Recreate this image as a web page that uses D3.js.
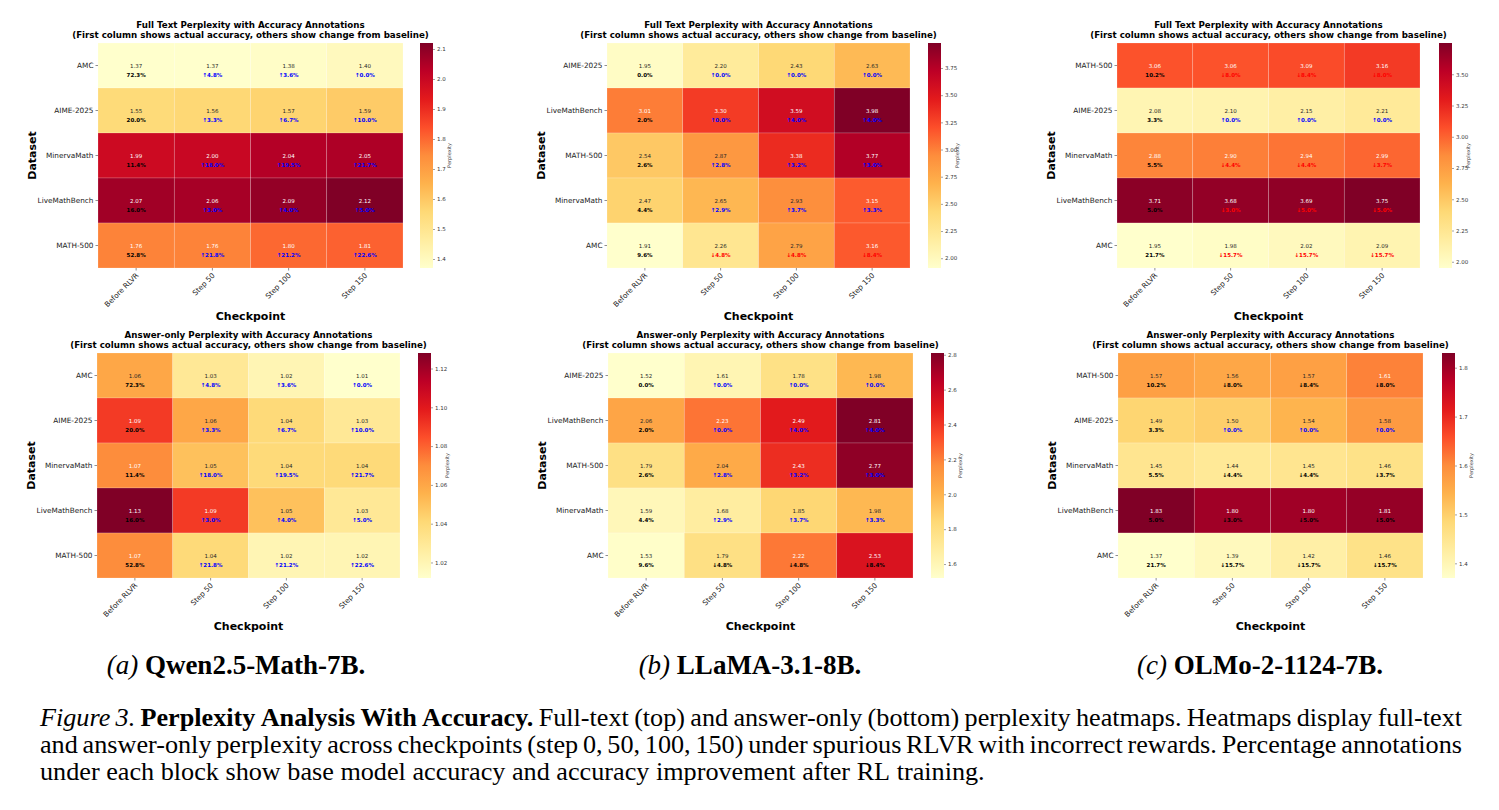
<!DOCTYPE html>
<html>
<head>
<meta charset="utf-8">
<script src="https://cdn.jsdelivr.net/npm/d3@7"></script>
<style>
  body { margin: 0; background: #fff; }
  svg { display: block; }
</style>
</head>
<body>
<div id="chart"></div>
<script>
// ---- data ----
var checkpoints = ["Before RLVR", "Step 50", "Step 100", "Step 150"];

// Qwen2.5-Math-7B
var qwenRows = ["AMC", "AIME-2025", "MinervaMath", "LiveMathBench", "MATH-500"];
var qwenFull = [
    [1.37, 1.37, 1.38, 1.40],
    [1.55, 1.56, 1.57, 1.59],
    [1.99, 2.00, 2.04, 2.05],
    [2.07, 2.06, 2.09, 2.12],
    [1.76, 1.76, 1.80, 1.81]
];
var qwenAns = [
    [1.06, 1.03, 1.02, 1.012],
    [1.09, 1.06, 1.04, 1.03],
    [1.07, 1.05, 1.04, 1.04],
    [1.128, 1.09, 1.05, 1.03],
    [1.07, 1.04, 1.02, 1.02]
];
// first column = accuracy, others = change from baseline
var qwenAcc = [
    [72.3, 4.8, 3.6, 0.0],
    [20.0, 3.3, 6.7, 10.0],
    [11.4, 18.0, 19.5, 21.7],
    [16.0, 3.0, 4.0, 5.0],
    [52.8, 21.8, 21.2, 22.6]
];

// LLaMA-3.1-8B
var llamaRows = ["AIME-2025", "LiveMathBench", "MATH-500", "MinervaMath", "AMC"];
var llamaFull = [
    [1.95, 2.20, 2.43, 2.63],
    [3.01, 3.30, 3.59, 3.98],
    [2.54, 2.87, 3.38, 3.77],
    [2.47, 2.65, 2.93, 3.15],
    [1.91, 2.26, 2.79, 3.16]
];
var llamaAns = [
    [1.52, 1.61, 1.78, 1.98],
    [2.06, 2.23, 2.49, 2.81],
    [1.79, 2.04, 2.43, 2.77],
    [1.59, 1.68, 1.85, 1.98],
    [1.53, 1.79, 2.22, 2.53]
];
var llamaAcc = [
    [0.0, 0.0, 0.0, 0.0],
    [2.0, 0.0, 4.0, 4.0],
    [2.6, 2.8, 3.2, 3.0],
    [4.4, 2.9, 3.7, 3.3],
    [9.6, -4.8, -4.8, -8.4]
];

// OLMo-2-1124-7B
var olmoRows = ["MATH-500", "AIME-2025", "MinervaMath", "LiveMathBench", "AMC"];
var olmoFull = [
    [3.06, 3.06, 3.09, 3.16],
    [2.08, 2.10, 2.15, 2.21],
    [2.88, 2.90, 2.94, 2.99],
    [3.71, 3.68, 3.69, 3.75],
    [1.95, 1.98, 2.02, 2.09]
];
var olmoAns = [
    [1.57, 1.56, 1.57, 1.61],
    [1.49, 1.50, 1.54, 1.58],
    [1.45, 1.44, 1.45, 1.46],
    [1.83, 1.80, 1.80, 1.81],
    [1.37, 1.39, 1.42, 1.46]
];
var olmoAcc = [
    [10.2, -8.0, -8.4, -8.0],
    [3.3, 0.0, 0.0, 0.0],
    [5.5, -4.4, -4.4, -3.7],
    [5.0, -3.0, -5.0, -5.0],
    [21.7, -15.7, -15.7, -15.7]
];

// colorbar tick labels
var qwenFullTicks = [1.4, 1.5, 1.6, 1.7, 1.8, 1.9, 2.0, 2.1];
var qwenAnsTicks = [1.02, 1.04, 1.06, 1.08, 1.10, 1.12];
var llamaFullTicks = [2.00, 2.25, 2.50, 2.75, 3.00, 3.25, 3.50, 3.75];
var llamaAnsTicks = [1.6, 1.8, 2.0, 2.2, 2.4, 2.6, 2.8];
var olmoFullTicks = [2.00, 2.25, 2.50, 2.75, 3.00, 3.25, 3.50];
var olmoAnsTicks = [1.4, 1.5, 1.6, 1.7, 1.8];

var subCaptions = [["(a) ", "Qwen2.5-Math-7B."], ["(b) ", "LLaMA-3.1-8B."], ["(c) ", "OLMo-2-1124-7B."]];

// ---- layout ----
var width = 1499, height = 810;
var ylorrd = ["#ffffcc", "#ffeda0", "#fed976", "#feb24c", "#fd8d3c", "#fc4e2a", "#e31a1c", "#bd0026", "#800026"];
var fullTitle = "Full Text Perplexity with Accuracy Annotations";
var ansTitle = "Answer-only Perplexity with Accuracy Annotations";
var subTitle = "(First column shows actual accuracy, others show change from baseline)";

var panels = [
    {title: fullTitle, x0: 98, x1: 403, y0: 43, y1: 268, cb: 420, rows: qwenRows, vals: qwenFull, acc: qwenAcc, down: "#ff0000", ticks: qwenFullTicks, fmt: ".1f"},
    {title: fullTitle, x0: 607, x1: 910, y0: 43, y1: 268, cb: 928, rows: llamaRows, vals: llamaFull, acc: llamaAcc, down: "#ff0000", ticks: llamaFullTicks, fmt: ".2f"},
    {title: fullTitle, x0: 1117, x1: 1420, y0: 43, y1: 268, cb: 1439, rows: olmoRows, vals: olmoFull, acc: olmoAcc, down: "#ff0000", ticks: olmoFullTicks, fmt: ".2f"},
    {title: ansTitle, x0: 97, x1: 400, y0: 353, y1: 578, cb: 418, rows: qwenRows, vals: qwenAns, acc: qwenAcc, down: "#000000", ticks: qwenAnsTicks, fmt: ".2f"},
    {title: ansTitle, x0: 608, x1: 913, y0: 353, y1: 578, cb: 931, rows: llamaRows, vals: llamaAns, acc: llamaAcc, down: "#000000", ticks: llamaAnsTicks, fmt: ".1f"},
    {title: ansTitle, x0: 1118, x1: 1423, y0: 353, y1: 578, cb: 1442, rows: olmoRows, vals: olmoAns, acc: olmoAcc, down: "#000000", ticks: olmoAnsTicks, fmt: ".1f"}
];

var svg = d3.select("#chart").append("svg")
    .attr("width", width)
    .attr("height", height)
    .style("background", "#fff");

var defs = svg.append("defs");
var grad = defs.append("linearGradient")
    .attr("id", "ylorrd")
    .attr("x1", 0).attr("y1", 1).attr("x2", 0).attr("y2", 0);
ylorrd.forEach(function(c, i){
    grad.append("stop").attr("offset", (i / 8 * 100) + "%").attr("stop-color", c);
});

// seaborn picks annotation colour from cell luminance
function luminance(c){
    var rgb = d3.rgb(c);
    var lin = [rgb.r, rgb.g, rgb.b].map(function(v){
        v = v / 255;
        return v <= 0.03928 ? v / 12.92 : Math.pow((v + 0.055) / 1.055, 2.4);
    });
    return 0.2126 * lin[0] + 0.7152 * lin[1] + 0.0722 * lin[2];
}

function drawPanel(p){
    var g = svg.append("g");
    var xScale = d3.scaleBand().domain(checkpoints).range([p.x0, p.x1]);
    var yScale = d3.scaleBand().domain(p.rows).range([p.y0, p.y1]);
    var ext = d3.extent(p.vals.flat());
    var color = d3.scaleLinear()
        .domain(d3.range(9).map(function(i){ return ext[0] + i * (ext[1] - ext[0]) / 8; }))
        .range(ylorrd)
        .interpolate(d3.interpolateRgb)
        .clamp(true);

    var cells = [];
    p.rows.forEach(function(r, i){
        checkpoints.forEach(function(c, j){
            cells.push({row: r, col: c, j: j, v: p.vals[i][j], a: p.acc[i][j]});
        });
    });

    var cg = g.selectAll("g.cell").data(cells).enter().append("g");
    cg.append("rect")
        .attr("x", function(d){ return xScale(d.col); })
        .attr("y", function(d){ return yScale(d.row); })
        .attr("width", xScale.bandwidth())
        .attr("height", yScale.bandwidth())
        .attr("fill", function(d){ return color(d.v); })
        .attr("stroke", "#ffffff")
        .attr("stroke-opacity", 0.3)
        .attr("stroke-width", 0.6);

    cg.append("text")
        .attr("x", function(d){ return xScale(d.col) + xScale.bandwidth() / 2; })
        .attr("y", function(d){ return yScale(d.row) + yScale.bandwidth() / 2 + 2; })
        .attr("text-anchor", "middle")
        .style("font", "5.5px 'DejaVu Sans'")
        .attr("fill", function(d){ return luminance(color(d.v)) > 0.408 ? "#262626" : "#ffffff"; })
        .text(function(d){ return d.v.toFixed(2); });

    cg.append("text")
        .attr("x", function(d){ return xScale(d.col) + xScale.bandwidth() / 2; })
        .attr("y", function(d){ return yScale(d.row) + yScale.bandwidth() / 2 + 11; })
        .attr("text-anchor", "middle")
        .style("font", "bold 5.5px 'DejaVu Sans'")
        .attr("fill", function(d){
            if (d.j == 0) return "#000000";
            return d.a < 0 ? p.down : "#0000ff";
        })
        .text(function(d){
            if (d.j == 0) return d.a.toFixed(1) + "%";
            return (d.a < 0 ? "\u2193" : "\u2191") + Math.abs(d.a).toFixed(1) + "%";
        });

    // axes
    var yAxis = g.append("g")
        .attr("transform", "translate(" + p.x0 + ",0)")
        .call(d3.axisLeft(yScale).tickSize(2.5).tickPadding(2));
    var xAxis = g.append("g")
        .attr("transform", "translate(0," + p.y1 + ")")
        .call(d3.axisBottom(xScale).tickSize(2.5));
    [xAxis, yAxis].forEach(function(a){
        a.select(".domain").remove();
        a.selectAll(".tick line").attr("stroke", "#444").attr("stroke-width", 0.6);
        a.selectAll("text").style("font", "7.3px 'DejaVu Sans'").attr("fill", "#222");
    });
    xAxis.selectAll("text")
        .attr("text-anchor", "end")
        .attr("y", 0).attr("dy", 0)
        .attr("transform", "translate(3,8) rotate(-45)");

    // colorbar
    var cbScale = d3.scaleLinear().domain(ext).range([p.y1, p.y0]);
    g.append("rect")
        .attr("x", p.cb).attr("y", p.y0)
        .attr("width", 13).attr("height", p.y1 - p.y0)
        .attr("fill", "url(#ylorrd)");
    var cbAxis = g.append("g")
        .attr("transform", "translate(" + (p.cb + 13) + ",0)")
        .call(d3.axisRight(cbScale).tickValues(p.ticks).tickFormat(d3.format(p.fmt)).tickSize(2).tickPadding(2));
    cbAxis.select(".domain").remove();
    cbAxis.selectAll(".tick line").attr("stroke", "#444").attr("stroke-width", 0.5);
    cbAxis.selectAll("text").style("font", "5.5px 'DejaVu Sans'").attr("fill", "#333");
    g.append("text")
        .attr("transform", "translate(" + (p.cb + 31) + "," + ((p.y0 + p.y1) / 2) + ") rotate(-90)")
        .attr("text-anchor", "middle")
        .style("font", "5px 'DejaVu Sans'")
        .attr("fill", "#333")
        .text("Perplexity");

    // titles and axis labels
    var cx = (p.x0 + p.x1) / 2;
    g.append("text").attr("x", cx).attr("y", p.y0 - 15)
        .attr("text-anchor", "middle")
        .style("font", "bold 8.7px 'DejaVu Sans'")
        .text(p.title);
    g.append("text").attr("x", cx).attr("y", p.y0 - 5)
        .attr("text-anchor", "middle")
        .style("font", "bold 8.7px 'DejaVu Sans'")
        .text(subTitle);
    g.append("text")
        .attr("transform", "translate(" + (p.x0 - 62) + "," + ((p.y0 + p.y1) / 2) + ") rotate(-90)")
        .attr("text-anchor", "middle")
        .style("font", "bold 11px 'DejaVu Sans'")
        .text("Dataset");
    g.append("text").attr("x", cx).attr("y", p.y1 + 52)
        .attr("text-anchor", "middle")
        .style("font", "bold 11px 'DejaVu Sans'")
        .text("Checkpoint");
}

panels.forEach(drawPanel);

// sub-figure captions
var capX = [236, 750, 1260];
subCaptions.forEach(function(s, i){
    var t = svg.append("text")
        .attr("x", capX[i]).attr("y", 674)
        .attr("text-anchor", "middle")
        .style("font-family", "'Liberation Serif'")
        .style("font-size", "27px");
    t.append("tspan").style("font-style", "italic").text(s[0]);
    t.append("tspan").style("font-weight", "bold").text(s[1]);
});

// figure caption, justified by hand
var capLines = [
    [["Figure 3.", "italic"], ["Perplexity Analysis With Accuracy.", "bold"], ["Full-text (top) and answer-only (bottom) perplexity heatmaps. Heatmaps display full-text", "normal"]],
    [["and answer-only perplexity across checkpoints (step 0, 50, 100, 150) under spurious RLVR with incorrect rewards. Percentage annotations", "normal"]],
    [["under each block show base model accuracy and accuracy improvement after RL training.", "normal"]]
];
var capLeft = 40, capRight = 1462, capSize = 26.2;

function styleWord(sel, s){
    sel.style("font-family", "'Liberation Serif'").style("font-size", capSize + "px")
        .style("font-style", s == "italic" ? "italic" : "normal")
        .style("font-weight", s == "bold" ? "bold" : "normal");
}

capLines.forEach(function(line, li){
    var words = [];
    line.forEach(function(seg){
        seg[0].split(" ").forEach(function(w){ words.push({w: w, s: seg[1]}); });
    });
    var y = 726 + li * 27;
    var nodes = words.map(function(wd){
        var t = svg.append("text").attr("y", y).text(wd.w);
        styleWord(t, wd.s);
        wd.len = t.node().getComputedTextLength();
        return t;
    });
    var total = d3.sum(words, function(d){ return d.len; });
    var gap = li < capLines.length - 1 ? (capRight - capLeft - total) / (words.length - 1) : capSize * 0.25;
    var x = capLeft;
    nodes.forEach(function(t, k){
        t.attr("x", x);
        x += words[k].len + gap;
    });
});
</script>
</body>
</html>
